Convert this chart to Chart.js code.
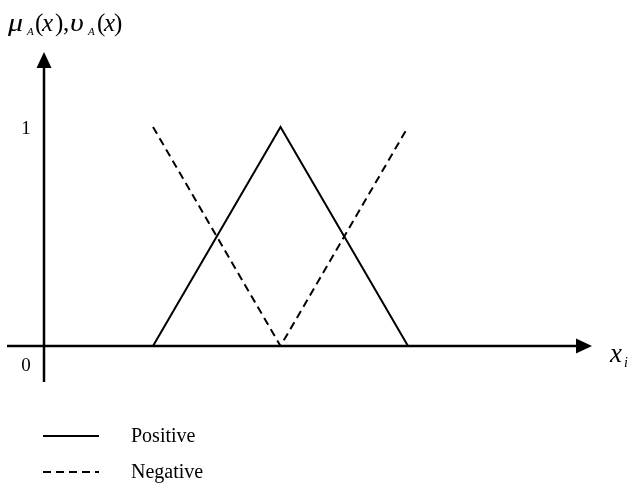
<!DOCTYPE html>
<html>
<head>
<meta charset="utf-8">
<script src="https://cdn.jsdelivr.net/npm/chart.js@4.4.0/dist/chart.umd.min.js"></script>
<style>
  html, body { margin: 0; padding: 0; background: #fff; }
  #wrap { width: 631px; height: 488px; }
</style>
</head>
<body>
<div id="wrap"><canvas id="mf"></canvas></div>
<script>
// membership functions (x positions in axis units, y = degree)
const posX = [1, 2, 3];
const posY = [0, 1, 0];
const negX = [1, 2, 3];
const negY = [1, 0, 1];
const seriesLabels = ['Positive', 'Negative'];
const yTickLabels = ['0', '1'];
const yTickValues = [0, 1];

const SERIF = '"Liberation Serif", "Times New Roman", serif';

function pts(xs, ys) {
    return xs.map((x, i) => ({ x: x, y: ys[i] }));
}

// draws the arrowed axes, tick text, axis names and the legend
const axesPlugin = {
    id: 'arrowAxes',
    afterDatasetsDraw(chart) {
        const ctx = chart.ctx;
        const xs = chart.scales.x, ys = chart.scales.y;
        const ox = xs.getPixelForValue(xs.min);
        const oy = ys.getPixelForValue(0);
        const top = chart.chartArea.top;
        const right = chart.chartArea.right;

        ctx.save();
        ctx.strokeStyle = '#000';
        ctx.fillStyle = '#000';
        ctx.lineWidth = 2.5;
        ctx.setLineDash([]);

        // y axis (goes a bit below the x axis)
        ctx.beginPath();
        ctx.moveTo(ox, oy + 36);
        ctx.lineTo(ox, top + 14);
        ctx.stroke();
        ctx.beginPath();
        ctx.moveTo(ox, top);
        ctx.lineTo(ox - 7.5, top + 16);
        ctx.lineTo(ox + 7.5, top + 16);
        ctx.closePath();
        ctx.fill();

        // x axis (starts a bit left of the y axis)
        ctx.beginPath();
        ctx.moveTo(7, oy);
        ctx.lineTo(right - 14, oy);
        ctx.stroke();
        ctx.beginPath();
        ctx.moveTo(right, oy);
        ctx.lineTo(right - 16, oy - 7.5);
        ctx.lineTo(right - 16, oy + 7.5);
        ctx.closePath();
        ctx.fill();

        // tick labels
        ctx.font = '19px ' + SERIF;
        ctx.textAlign = 'center';
        ctx.textBaseline = 'middle';
        yTickValues.forEach((v, i) => {
            const py = ys.getPixelForValue(v);
            ctx.fillText(yTickLabels[i], 26, v === 0 ? py + 20 : py + 2);
        });

        // y axis name: mu_A(x), upsilon_A(x)
        ctx.textAlign = 'left';
        ctx.textBaseline = 'alphabetic';
        const by = 31;
        const parts = [
            ['μ', 'italic 25px', 8, 0, 1.2],
            ['A', 'italic 11px', 27, 4, 1],
            ['(', '25px', 35, 0, 1],
            ['x', 'italic 25px', 42, 0, 1],
            [')', '25px', 55, 0, 1],
            [',', '25px', 63, 0, 1],
            ['υ', 'italic 25px', 70, 0, 1.2],
            ['A', 'italic 11px', 88, 4, 1],
            ['(', '25px', 97, 0, 1],
            ['x', 'italic 25px', 104, 0, 1],
            [')', '25px', 114, 0, 1]
        ];
        parts.forEach(p => {
            ctx.save();
            ctx.font = p[1] + ' ' + SERIF;
            ctx.translate(p[2], by + p[3]);
            ctx.scale(p[4], 1);
            ctx.fillText(p[0], 0, 0);
            ctx.restore();
        });

        // x axis name: x_i
        ctx.font = 'italic 27px ' + SERIF;
        ctx.fillText('x', 610, oy + 16);
        ctx.font = 'italic 14px ' + SERIF;
        ctx.fillText('i', 624, oy + 21);

        // legend
        const ds = chart.data.datasets;
        ds.forEach((d, i) => {
            const ly = 436 + i * 36;
            ctx.lineWidth = 2;
            ctx.setLineDash(d.borderDash || []);
            ctx.beginPath();
            ctx.moveTo(43, ly);
            ctx.lineTo(99, ly);
            ctx.stroke();
            ctx.setLineDash([]);
            ctx.font = '20px ' + SERIF;
            ctx.textBaseline = 'middle';
            ctx.fillText(d.label, 131, ly + 1);
        });
        ctx.restore();
    }
};

new Chart(document.getElementById('mf'), {
    type: 'scatter',
    data: {
        datasets: [
            {
                label: seriesLabels[0],
                data: pts(posX, posY),
                showLine: true,
                borderColor: '#000',
                borderWidth: 2,
                pointRadius: 0,
                tension: 0
            },
            {
                label: seriesLabels[1],
                data: pts(negX, negY),
                showLine: true,
                borderColor: '#000',
                borderWidth: 2,
                borderDash: [8, 5],
                pointRadius: 0,
                tension: 0
            }
        ]
    },
    options: {
        responsive: true,
        maintainAspectRatio: false,
        animation: false,
        layout: { padding: { left: 44, right: 39, top: 52, bottom: 142 } },
        plugins: { legend: { display: false }, tooltip: { enabled: false } },
        scales: {
            x: { type: 'linear', min: 0.145, max: 4.443, display: false },
            y: { type: 'linear', min: 0, max: 1.342, display: false }
        }
    },
    plugins: [axesPlugin]
});
</script>
</body>
</html>
